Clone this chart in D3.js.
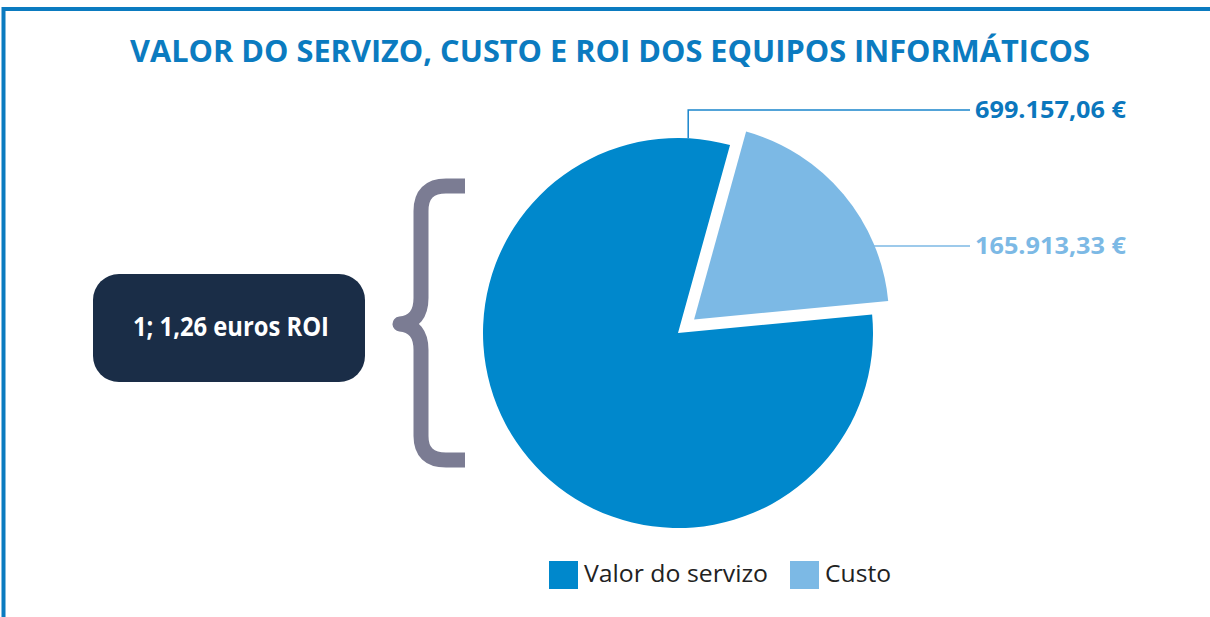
<!DOCTYPE html>
<meta charset="utf-8">
<style>
    body {
        margin: 0;
        background: #fff;
    }

    svg {
        display: block;
        font-family: "Open Sans", sans-serif;
    }

    .frame {
        fill: none;
        stroke: #0b7bc0;
        stroke-width: 4;
    }

    .brace {
        fill: none;
        stroke: #7b7c93;
        stroke-width: 15;
        stroke-linejoin: round;
    }

    .leader {
        fill: none;
        stroke-width: 1.5;
    }
</style>
<body>
<script src="https://cdn.jsdelivr.net/npm/d3@7"></script>
<script>
    // data
    const categories = ["Valor do servizo", "Custo"];
    const values = [699157.06, 165913.33];
    const valueLabels = ["699.157,06 €", "165.913,33 €"];
    const colors = ["#0088cc", "#7cb9e5"];
    const titleText = "VALOR DO SERVIZO, CUSTO E ROI DOS EQUIPOS INFORMÁTICOS";
    const roiText = "1; 1,26 euros ROI";

    const width = 1210;
    const height = 617;

    const cx = 678;
    const cy = 333;
    const radius = 195;
    const explode = 21;

    const svg = d3.select('body')
        .append('svg')
        .attr('width', width)
        .attr('height', height);

    // blue frame (top + left edge)
    svg.append('path')
        .attr('class', 'frame')
        .attr('d', 'M 3.5 617 V 9 H 1210');

    // title
    svg.append('text')
        .attr('x', 610)
        .attr('y', 62)
        .attr('text-anchor', 'middle')
        .attr('textLength', 960)
        .attr('lengthAdjust', 'spacingAndGlyphs')
        .style('font-size', '31px')
        .style('font-weight', 700)
        .style('fill', '#0b7bc0')
        .text(titleText);

    // pie: custo slice centred around 50deg clockwise from top
    const custoShare = values[1] / d3.sum(values) * 2 * Math.PI;
    const custoMid = 50 * Math.PI / 180;
    const pie = d3.pie()
        .sort(null)
        .startAngle(custoMid + custoShare / 2)
        .endAngle(custoMid + custoShare / 2 + 2 * Math.PI);

    const arc = d3.arc()
        .innerRadius(0)
        .outerRadius(radius);

    const arcs = pie(values);

    const pieG = svg.append('g')
        .attr('transform', 'translate(' + cx + ',' + cy + ')');

    pieG.selectAll('path')
        .data(arcs)
        .enter().append('path')
        .attr('d', arc)
        .attr('transform', (d, i) => {
            if (i === 0) return null;
            const m = (d.startAngle + d.endAngle) / 2;
            return 'translate(' + (Math.sin(m) * explode) + ',' + (-Math.cos(m) * explode) + ')';
        })
        .style('fill', (d, i) => colors[i]);

    // leader lines + value labels
    const labelX = 975;
    // main slice: from top of the pie, up and across
    const a0 = 3 * Math.PI / 180;
    const p0 = [cx + Math.sin(a0) * radius, cy - Math.cos(a0) * radius];
    svg.append('path')
        .attr('class', 'leader')
        .style('stroke', '#1a85cc')
        .attr('d', 'M ' + p0[0] + ' ' + p0[1] + ' V 110 H ' + (labelX - 5));

    // custo slice: horizontal from its rim
    const m1 = (arcs[1].startAngle + arcs[1].endAngle) / 2;
    const c1 = [cx + Math.sin(m1) * explode, cy - Math.cos(m1) * explode];
    const ly = 246;
    const p1x = c1[0] + Math.sqrt(radius * radius - (ly - c1[1]) * (ly - c1[1]));
    svg.append('path')
        .attr('class', 'leader')
        .style('stroke', colors[1])
        .attr('d', 'M ' + (p1x - 2) + ' ' + ly + ' H ' + (labelX - 5));

    const labelY = [118, 254];
    const labelColors = ["#0b77bd", colors[1]];
    svg.selectAll('.value-label')
        .data(valueLabels)
        .enter().append('text')
        .attr('class', 'value-label')
        .attr('x', labelX)
        .attr('y', (d, i) => labelY[i])
        .attr('textLength', 151)
        .attr('lengthAdjust', 'spacingAndGlyphs')
        .style('font-size', '24px')
        .style('font-weight', 700)
        .style('fill', (d, i) => labelColors[i])
        .text(d => d);

    // ROI box
    svg.append('rect')
        .attr('x', 93)
        .attr('y', 274)
        .attr('width', 272)
        .attr('height', 108)
        .attr('rx', 26)
        .style('fill', '#1a2d47');

    svg.append('text')
        .attr('x', 231)
        .attr('y', 336)
        .attr('text-anchor', 'middle')
        .attr('textLength', 196)
        .attr('lengthAdjust', 'spacingAndGlyphs')
        .style('font-size', '27px')
        .style('font-weight', 700)
        .style('fill', '#ffffff')
        .text(roiText);

    // curly brace
    svg.append('path')
        .attr('class', 'brace')
        .attr('d', 'M 465 186 H 446 Q 421 186 421 211 V 298 Q 421 322 400 324 ' +
                   'Q 421 326 421 350 V 436 Q 421 460 446 460 H 465');

    // legend
    const legendX = [549, 790];
    const legend = svg.selectAll('.legend')
        .data(categories)
        .enter().append('g')
        .attr('class', 'legend')
        .attr('transform', (d, i) => 'translate(' + legendX[i] + ',561)');

    legend.append('rect')
        .attr('width', 29)
        .attr('height', 28)
        .style('fill', (d, i) => colors[i]);

    legend.append('text')
        .attr('x', 35)
        .attr('y', 21)
        .attr('textLength', (d, i) => [184, 66][i])
        .attr('lengthAdjust', 'spacingAndGlyphs')
        .style('font-size', '23px')
        .style('fill', '#222')
        .text(d => d);
</script>
</body>
</html>
